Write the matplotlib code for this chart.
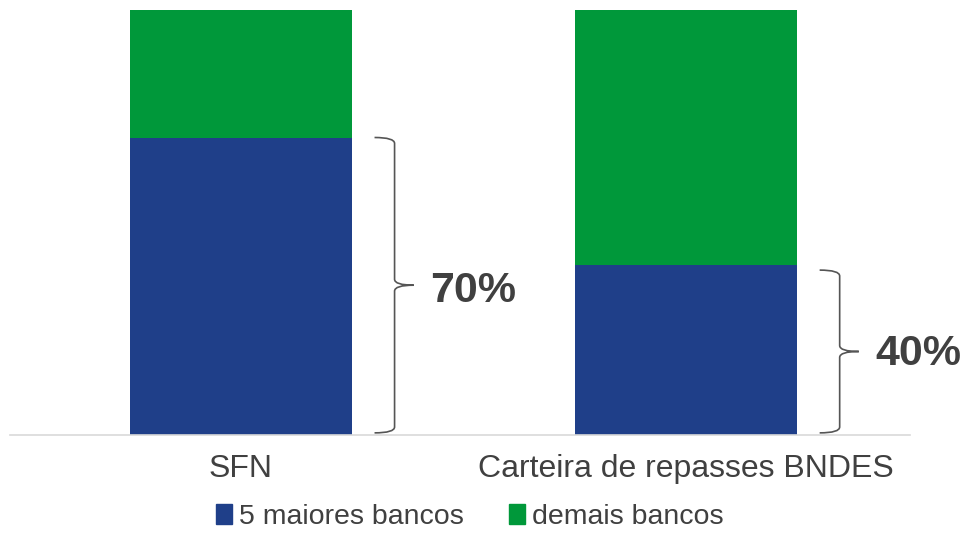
import matplotlib
matplotlib.use("Agg")
import matplotlib.pyplot as plt
from matplotlib.path import Path
from matplotlib.patches import PathPatch, Patch

plt.rcParams['font.family'] = ['Liberation Sans', 'DejaVu Sans']

categories = ['SFN', 'Carteira de repasses BNDES']
top5 = [0.70, 0.40]
others = [0.30, 0.60]
series_names = ['5 maiores bancos', 'demais bancos']
labels = ['70%', '40%']

blue = '#1F3F89'
green = '#00983A'
text_col = '#404040'

fig = plt.figure(figsize=(9.71, 5.33), dpi=100)
ax = fig.add_axes([10 / 971, 98 / 533, 900 / 971, 425 / 533])

x = list(range(len(categories)))
ax.bar(x, top5, width=0.5, color=blue)
ax.bar(x, others, width=0.5, bottom=top5, color=green)

ax.set_xlim(-0.519, 1.503)
ax.set_ylim(0, 1)
ax.set_yticks([])
ax.set_xticks(x)
ax.set_xticklabels(categories, fontsize=23, color=text_col)
ax.tick_params(axis='x', length=0, pad=14)
for s in ['top', 'left', 'right']:
    ax.spines[s].set_visible(False)
ax.spines['bottom'].set_color('#D9D9D9')
ax.spines['bottom'].set_linewidth(1.2)


# curly brace from 0 to value, to the right of each bar
def brace(xv, top, bot, d=0.045, tip=0.043, r=0.014):
    mid = (top + bot) / 2
    verts = [(xv - d, top), (xv, top), (xv, top - r),
             (xv, mid + r),
             (xv, mid), (xv + tip, mid),
             (xv, mid), (xv, mid - r),
             (xv, bot + r),
             (xv, bot), (xv - d, bot)]
    codes = [Path.MOVETO, Path.CURVE3, Path.CURVE3,
             Path.LINETO,
             Path.CURVE3, Path.CURVE3,
             Path.CURVE3, Path.CURVE3,
             Path.LINETO,
             Path.CURVE3, Path.CURVE3]
    return PathPatch(Path(verts, codes), fill=False, edgecolor='#555555', lw=1.2)


for i, (v, lab) in enumerate(zip(top5, labels)):
    top = v if i == 0 else v - 0.012
    ax.add_patch(brace(i + 0.345, top, 0.005))
    ax.text(i + 0.425, v / 2 - 0.01, lab, fontsize=31, fontweight='bold',
            color=text_col, ha='left', va='center')

handles = [Patch(color=blue), Patch(color=green)]
fig.legend(handles, series_names, loc='center', bbox_to_anchor=(470 / 971, 16 / 533),
           ncol=2, frameon=False, fontsize=20.5, handlelength=0.55, handleheight=0.7,
           handletextpad=0.25, columnspacing=1.6, labelcolor=text_col,
           borderpad=0.1)

fig.savefig('out.png', dpi=100)
